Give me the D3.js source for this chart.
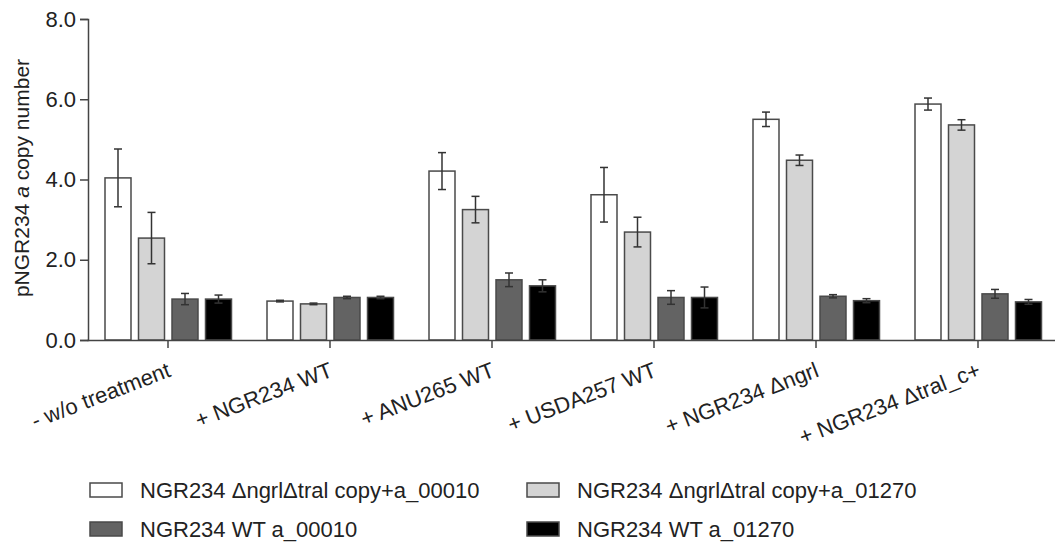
<!DOCTYPE html>
<meta charset="utf-8">

<script src="https://d3js.org/d3.v7.min.js"></script>

<style type="text/css">
  body { margin: 0; background: #fff; }
  text { font-family: "Liberation Sans", Arial, sans-serif; fill: #222; }
</style>

<body>
</body>

<script>

var groups = ["- w/o treatment", "+ NGR234 WT", "+ ANU265 WT", "+ USDA257 WT", "+ NGR234 \u0394ngrl", "+ NGR234 \u0394tral_c+"];

var seriesNames = ["NGR234 \u0394ngrl\u0394tral copy+a_00010", "NGR234 \u0394ngrl\u0394tral copy+a_01270",
                   "NGR234 WT a_00010", "NGR234 WT a_01270"];

var seriesColors = ["#ffffff", "#d4d4d4", "#636363", "#000000"];

// mean values, one array per series (in group order)
var deltaA00010 = [4.04, 0.97, 4.21, 3.62, 5.50, 5.88];
var deltaA01270 = [2.54, 0.90, 3.25, 2.69, 4.48, 5.36];
var wtA00010    = [1.02, 1.06, 1.50, 1.06, 1.09, 1.15];
var wtA01270    = [1.02, 1.06, 1.35, 1.06, 0.98, 0.95];

// error (+/-)
var errDeltaA00010 = [0.72, 0.02, 0.46, 0.68, 0.18, 0.15];
var errDeltaA01270 = [0.64, 0.02, 0.33, 0.37, 0.13, 0.13];
var errWtA00010    = [0.14, 0.03, 0.17, 0.17, 0.04, 0.11];
var errWtA01270    = [0.10, 0.03, 0.15, 0.26, 0.05, 0.06];

var yTicks = [0, 2, 4, 6, 8];

var values = [deltaA00010, deltaA01270, wtA00010, wtA01270];
var errors = [errDeltaA00010, errDeltaA01270, errWtA00010, errWtA01270];

var data = [];
groups.forEach(function(g, gi) {
  values.forEach(function(v, si) {
    data.push({group: g, series: si, value: v[gi], err: errors[si][gi]});
  });
});

var width = 1055, height = 547;

var svg = d3.select("body").append("svg")
    .attr("width", width)
    .attr("height", height);

var x0 = d3.scaleBand()
    .domain(groups)
    .range([87, 1059]);

var x1 = d3.scaleBand()
    .domain(d3.range(4))
    .range([-63, 63.5])
    .paddingInner(0.224);

var y = d3.scaleLinear()
    .domain([0, 8])
    .range([340, 19]);

// bars
svg.append("g").selectAll("rect")
    .data(data)
  .enter().append("rect")
    .attr("x", function(d) { return x0(d.group) + x0.bandwidth() / 2 + x1(d.series); })
    .attr("y", function(d) { return y(d.value); })
    .attr("width", x1.bandwidth())
    .attr("height", function(d) { return y(0) - y(d.value); })
    .attr("fill", function(d) { return seriesColors[d.series]; })
    .attr("stroke", "#4a4a4a")
    .attr("stroke-width", 1.5);

// error bars
var eb = svg.append("g")
    .attr("stroke", "#333")
    .attr("stroke-width", 1.5)
  .selectAll("g")
    .data(data)
  .enter().append("g")
    .attr("transform", function(d) {
      return "translate(" + (x0(d.group) + x0.bandwidth() / 2 + x1(d.series) + x1.bandwidth() / 2) + ",0)";
    });

eb.append("line")
    .attr("y1", function(d) { return y(d.value + d.err); })
    .attr("y2", function(d) { return y(d.value - d.err); });
eb.append("line")
    .attr("x1", -4).attr("x2", 4)
    .attr("y1", function(d) { return y(d.value + d.err); })
    .attr("y2", function(d) { return y(d.value + d.err); });
eb.append("line")
    .attr("x1", -4).attr("x2", 4)
    .attr("y1", function(d) { return y(d.value - d.err); })
    .attr("y2", function(d) { return y(d.value - d.err); });

// y axis
var yAxis = svg.append("g")
    .attr("transform", "translate(88,0)")
    .call(d3.axisLeft(y).tickValues(yTicks).tickFormat(d3.format(".1f")).tickSize(8).tickPadding(4));

yAxis.select(".domain").attr("stroke", "#444").attr("stroke-width", 1.5);
yAxis.selectAll(".tick line").attr("stroke", "#444").attr("stroke-width", 1.5);
yAxis.selectAll(".tick text")
    .attr("font-size", 22)
    .attr("font-family", "Liberation Sans, Arial, sans-serif")
    .attr("fill", "#222");

// x axis
var xAxis = svg.append("g")
    .attr("transform", "translate(0,340)")
    .call(d3.axisBottom(x0).tickSize(8).tickSizeOuter(0).tickFormat(""));

xAxis.select(".domain").attr("stroke", "#444").attr("stroke-width", 1.5);
xAxis.selectAll(".tick line").attr("stroke", "#444").attr("stroke-width", 1.5);

xAxis.selectAll(".tick").append("text")
    .attr("transform", "translate(4,36) rotate(-21)")
    .attr("text-anchor", "end")
    .attr("font-size", 22)
    .attr("font-family", "Liberation Sans, Arial, sans-serif")
    .attr("fill", "#222")
    .text(function(d) { return d; });

// y axis title
var yTitle = svg.append("text")
    .attr("transform", "translate(29,178) rotate(-90)")
    .attr("text-anchor", "middle")
    .attr("font-size", 21);
yTitle.append("tspan").text("pNGR234 ");
yTitle.append("tspan").attr("font-style", "italic").text("a");
yTitle.append("tspan").text(" copy number");

// legend
var legend = svg.append("g").selectAll("g")
    .data(seriesNames)
  .enter().append("g")
    .attr("transform", function(d, i) {
      return "translate(" + (i % 2 === 0 ? 90 : 527) + "," + (i < 2 ? 483 : 522) + ")";
    });

legend.append("rect")
    .attr("width", 32)
    .attr("height", 14)
    .attr("fill", function(d, i) { return seriesColors[i]; })
    .attr("stroke", "#4a4a4a")
    .attr("stroke-width", 1.5);

legend.append("text")
    .attr("x", 50)
    .attr("y", 15)
    .attr("font-size", 22)
    .text(function(d) { return d; });

</script>
